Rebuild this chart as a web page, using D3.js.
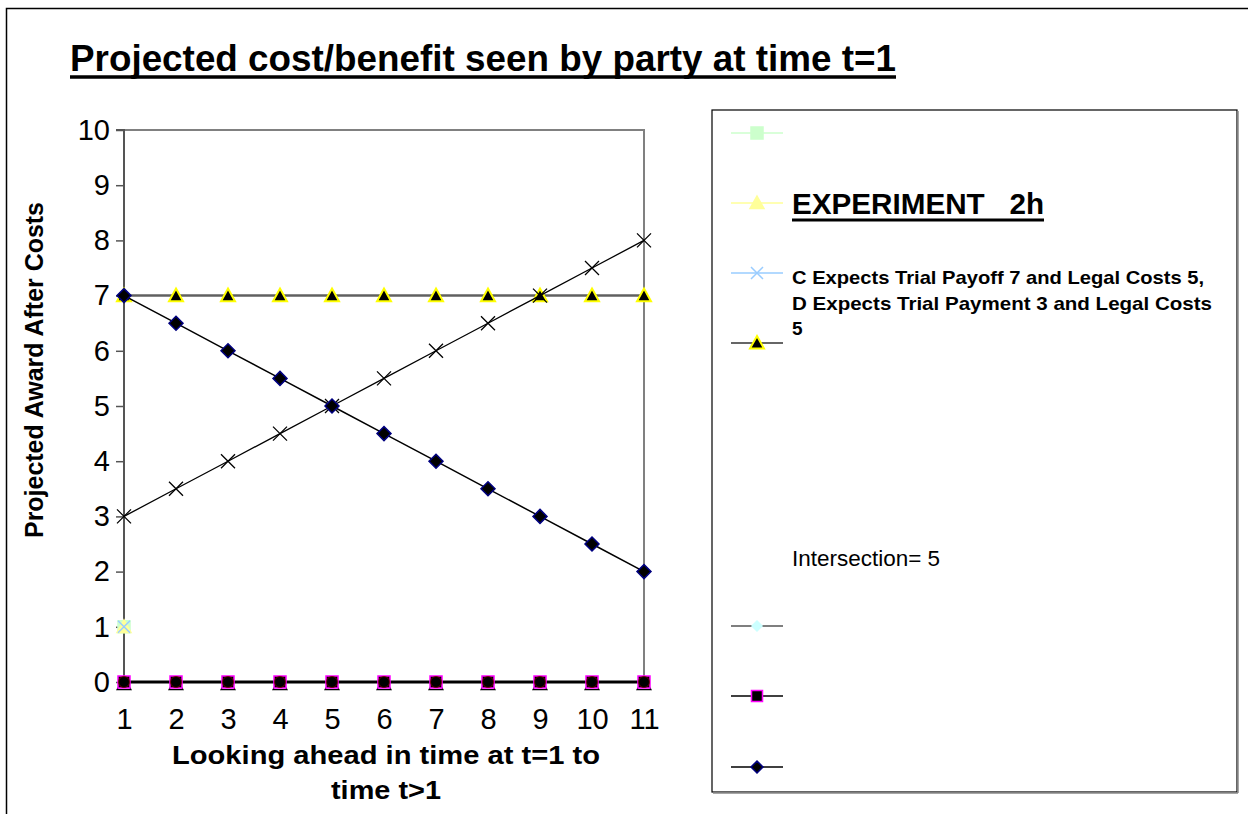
<!DOCTYPE html>
<html><head><meta charset="utf-8">
<script src="https://cdn.jsdelivr.net/npm/d3@7"></script>
<style>body{margin:0;background:#fff}svg{display:block}text{font-family:"Liberation Sans",Arial,sans-serif}</style>
</head><body><svg id="c" width="1248" height="814"></svg>
<script>
const categories = [1,2,3,4,5,6,7,8,9,10,11];
const yTicks = [0,1,2,3,4,5,6,7,8,9,10];
const trialPayoff = [7,7,7,7,7,7,7,7,7,7,7];            // black triangles
const plaintiffView = [3,3.5,4,4.5,5,5.5,6,6.5,7,7.5,8]; // black x
const defendantView = [7,6.5,6,5.5,5,4.5,4,3.5,3,2.5,2]; // diamonds
const zeroSeries = [0,0,0,0,0,0,0,0,0,0,0];
const greenSquares = [1];
const yellowTriangles = [1];
const blueCrosses = [1];
const legendLabels = ["", "EXPERIMENT   2h", "C Expects Trial Payoff 7 and Legal Costs 5,|D Expects Trial Payment 3 and Legal Costs|5", "", "Intersection= 5", "", "", ""];

const svg = d3.select("#c");
const x = d3.scaleLinear().domain([1,11]).range([124,644]);
const y = d3.scaleLinear().domain([0,10]).range([682,130]);

// outer border
svg.append("path").attr("d","M6.5,814 V8.5 H1248").attr("fill","none").attr("stroke","#000").attr("stroke-width",1.5);

// title
svg.append("text").attr("x",70).attr("y",71).attr("font-size",37).attr("font-weight","bold")
  .style("font-family","'Liberation Sans Narrow','Liberation Sans',Arial,sans-serif")
  .attr("textLength",826).attr("lengthAdjust","spacingAndGlyphs")
  .text("Projected cost/benefit seen by party at time t=1");
svg.append("line").attr("x1",70).attr("x2",896).attr("y1",77).attr("y2",77).attr("stroke","#000").attr("stroke-width",3.5);

// plot area border (top/right gray)
svg.append("path").attr("d",`M${x(1)},${y(10)} H${x(11)} V${y(0)}`).attr("fill","none").attr("stroke","#808080").attr("stroke-width",2);

// y axis
const yAxis = d3.axisLeft(y).tickValues(yTicks).tickSize(8).tickPadding(6).tickFormat(d3.format("d"));
const gy = svg.append("g").attr("transform",`translate(${x(1)},0)`).call(yAxis);
gy.select(".domain").attr("stroke","#555").attr("stroke-width",2).attr("d",`M-8,${y(10)}H0V${y(0)+8}`);
gy.selectAll(".tick line").attr("stroke","#555").attr("stroke-width",1.5);
gy.selectAll(".tick text").attr("font-size",29).attr("fill","#000").attr("font-family","Liberation Sans, Arial, sans-serif");

// x axis
const xAxis = d3.axisBottom(x).tickValues(categories).tickSize(8).tickPadding(18).tickFormat(d3.format("d"));
const gx = svg.append("g").attr("transform",`translate(0,${y(0)})`).call(xAxis);
gx.select(".domain").remove();
gx.selectAll(".tick line").attr("stroke","#555").attr("stroke-width",1.5);
gx.selectAll(".tick text").attr("font-size",29).attr("fill","#000").attr("font-family","Liberation Sans, Arial, sans-serif");

// axis titles
svg.append("text").attr("transform","translate(43,370) rotate(-90)").attr("text-anchor","middle")
  .attr("font-size",26).attr("font-weight","bold").attr("textLength",336).attr("lengthAdjust","spacingAndGlyphs")
  .text("Projected Award After Costs");
svg.append("text").attr("x",386).attr("y",764).attr("text-anchor","middle").attr("font-size",25).attr("font-weight","bold")
  .attr("textLength",428).attr("lengthAdjust","spacingAndGlyphs").text("Looking ahead in time at t=1 to");
svg.append("text").attr("x",386).attr("y",799).attr("text-anchor","middle").attr("font-size",25).attr("font-weight","bold")
  .attr("textLength",110).attr("lengthAdjust","spacingAndGlyphs").text("time t>1");

// marker paths
const M = {
  diamond: s => `M0,${-s}L${s},0L0,${s}L${-s},0Z`,
  square: s => `M${-s},${-s}H${s}V${s}H${-s}Z`,
  triangle: s => `M0,${-s}L${s},${s*0.8}L${-s},${s*0.8}Z`,
  cross: s => `M${-s},${-s}L${s},${s}M${s},${-s}L${-s},${s}`
};
const line = d3.line().x((d,i)=>x(categories[i])).y(d=>y(d));

function series(vals, opt){
  if(opt.line) svg.append("path").attr("d",line(vals)).attr("fill","none").attr("stroke",opt.line).attr("stroke-width",opt.lw||1.5);
  svg.append("g").selectAll("path").data(vals).join("path")
    .attr("transform",(d,i)=>`translate(${x(categories[i])},${y(d)+(opt.dy||0)})`)
    .attr("d",M[opt.shape](opt.size))
    .attr("fill",opt.fill).attr("stroke",opt.stroke).attr("stroke-width",opt.sw||1.5);
}

// zero line series
series(zeroSeries,{shape:"triangle",size:7,fill:"#fff",stroke:"#000",sw:1.2,dy:2});
series(zeroSeries,{shape:"square",size:6,fill:"#000",stroke:"#ff00ff",sw:1.5,line:"#000",lw:3});
svg.append("g").selectAll("circle").data(zeroSeries).join("circle")
  .attr("cx",(d,i)=>x(categories[i])).attr("cy",d=>y(d)).attr("r",5.5).attr("fill","#000").attr("stroke","#800000").attr("stroke-width",0.8);

// single points at 1
series(greenSquares,{shape:"square",size:6,fill:"#ccffcc",stroke:"#ccffcc"});
series(yellowTriangles,{shape:"triangle",size:7,fill:"#ffff99",stroke:"#ffff99"});
series(blueCrosses,{shape:"cross",size:6,fill:"none",stroke:"#99ccff",sw:1.5});

// main series
series(trialPayoff,{shape:"triangle",size:7,fill:"#000",stroke:"#ffff00",sw:2,line:"#606060",lw:2.5});
series(plaintiffView,{shape:"cross",size:7,fill:"none",stroke:"#000",sw:1.3,line:"#000",lw:1.3});
series(defendantView,{shape:"diamond",size:7,fill:"#000",stroke:"#000080",sw:1.5,line:"#000",lw:1.5});

// legend
svg.append("rect").attr("x",712).attr("y",110).attr("width",525).attr("height",682).attr("fill","none").attr("stroke","#000").attr("stroke-width",1.2);
svg.append("line").attr("x1",1238).attr("x2",1238).attr("y1",111).attr("y2",793).attr("stroke","#888").attr("stroke-width",1.5);
svg.append("line").attr("x1",713).attr("x2",1238).attr("y1",793).attr("y2",793).attr("stroke","#888").attr("stroke-width",1.5);

const legendItems = [
  {y:133, line:"#ccffcc", shape:"square", size:6, fill:"#ccffcc", stroke:"#ccffcc"},
  {y:203, line:"#ffff99", shape:"triangle", size:7, fill:"#ffff99", stroke:"#ffff99"},
  {y:273, line:"#99ccff", shape:"cross", size:6, fill:"none", stroke:"#99ccff"},
  {y:343, line:"#333", shape:"triangle", size:7, fill:"#000", stroke:"#ffff00", sw:2},
  {y:626, line:"#555", shape:"diamond", size:5, fill:"#ccffff", stroke:"#ccffff"},
  {y:696, line:"#000", shape:"square", size:5.5, fill:"#000", stroke:"#ff00ff"},
  {y:767, line:"#000", shape:"diamond", size:6, fill:"#000", stroke:"#000080"}
];
legendItems.forEach(it=>{
  svg.append("line").attr("x1",731).attr("x2",783).attr("y1",it.y).attr("y2",it.y).attr("stroke",it.line).attr("stroke-width",1.5);
  svg.append("path").attr("transform",`translate(757,${it.y})`).attr("d",M[it.shape](it.size))
    .attr("fill",it.fill).attr("stroke",it.stroke).attr("stroke-width",it.sw||1.5);
});
svg.append("text").attr("x",792).attr("y",214).attr("font-size",30).attr("font-weight","bold")
  .attr("textLength",252).attr("lengthAdjust","spacingAndGlyphs").style("white-space","pre")
  .text(legendLabels[1]);
svg.append("line").attr("x1",792).attr("x2",1044).attr("y1",220).attr("y2",220).attr("stroke","#000").attr("stroke-width",3);
const cl = legendLabels[2].split("|");
const clW = [412, 420, null];
cl.forEach((t,i)=>{
  const tx = svg.append("text").attr("x",792).attr("y",284+i*25.5).attr("font-size",19).attr("font-weight","bold").text(t);
  if(clW[i]) tx.attr("textLength",clW[i]).attr("lengthAdjust","spacingAndGlyphs");
});
svg.append("text").attr("x",792).attr("y",566).attr("font-size",22).attr("textLength",148).attr("lengthAdjust","spacingAndGlyphs")
  .text(legendLabels[4]);
</script></body></html>
